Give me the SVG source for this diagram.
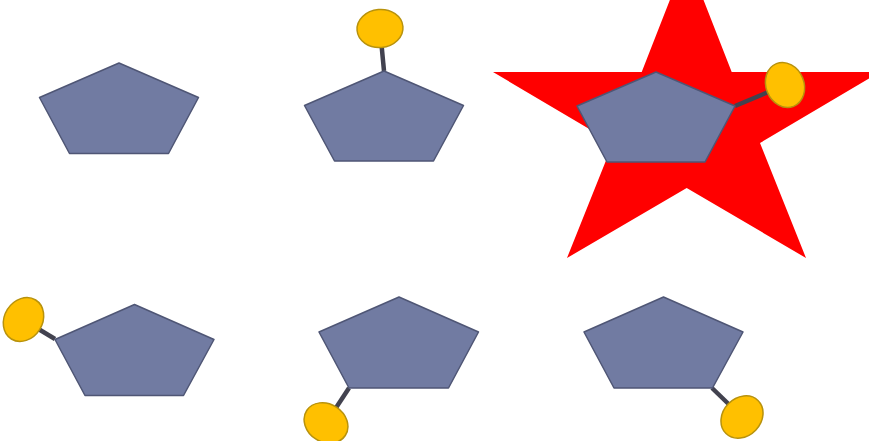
<svg xmlns="http://www.w3.org/2000/svg" width="869" height="441" viewBox="0 0 869 441">
<style>
.pent{fill:#717BA2;stroke:#4F5675;stroke-width:1.5;stroke-linejoin:round}
.knob{fill:#FFC000;stroke:#B8920C;stroke-width:1.5}
.stick{stroke:#42424F;stroke-width:4.5;stroke-linecap:butt}
</style>
<rect width="869" height="441" fill="#ffffff"/>
<g id="star">
<polygon points="686.7,-43 731.7,72 880,72 760,143 806,258 686.7,188 567,258 613,143 493,72 641.7,72" fill="#FF0000"/>
</g>
<g id="connectors">
<line class="stick" x1="384" y1="71" x2="380" y2="29"/>
<line class="stick" x1="735" y1="106" x2="785" y2="85"/>
<line class="stick" x1="55" y1="339" x2="23.5" y2="320"/>
<line class="stick" x1="349" y1="388" x2="326" y2="423"/>
<line class="stick" x1="712" y1="388" x2="742" y2="417"/>
</g>
<g id="node1">
<polygon class="pent" points="119,63 198.5,97.5 168.5,153.5 69.5,153.5 39.5,97.5"/>
</g>
<g id="node2">
<polygon class="pent" points="384,71 463.5,105.5 433.5,161 334.5,161 304.5,105.5"/>
<ellipse class="knob" cx="380" cy="28.5" rx="23" ry="19" transform="rotate(-5 380 28.5)"/>
</g>
<g id="node3">
<polygon class="pent" points="656,72 735,106 705,162 607,162 577,106"/>
<ellipse class="knob" cx="785" cy="85" rx="23" ry="19" transform="rotate(68 785 85)"/>
</g>
<g id="node4">
<polygon class="pent" points="134.5,304.5 214,339.5 183.5,395.5 85,395.5 55,339.5"/>
<ellipse class="knob" cx="23.5" cy="319.5" rx="23" ry="19" transform="rotate(-58 23.5 319.5)"/>
</g>
<g id="node5">
<polygon class="pent" points="399,297 478.5,332 448.5,388 349,388 319,332"/>
<ellipse class="knob" cx="326" cy="423" rx="23" ry="19" transform="rotate(33 326 423)"/>
</g>
<g id="node6">
<polygon class="pent" points="663.5,297 743,332 712.5,388 614,388 584,332"/>
<ellipse class="knob" cx="742" cy="417" rx="23" ry="19" transform="rotate(-46 742 417)"/>
</g>
</svg>
